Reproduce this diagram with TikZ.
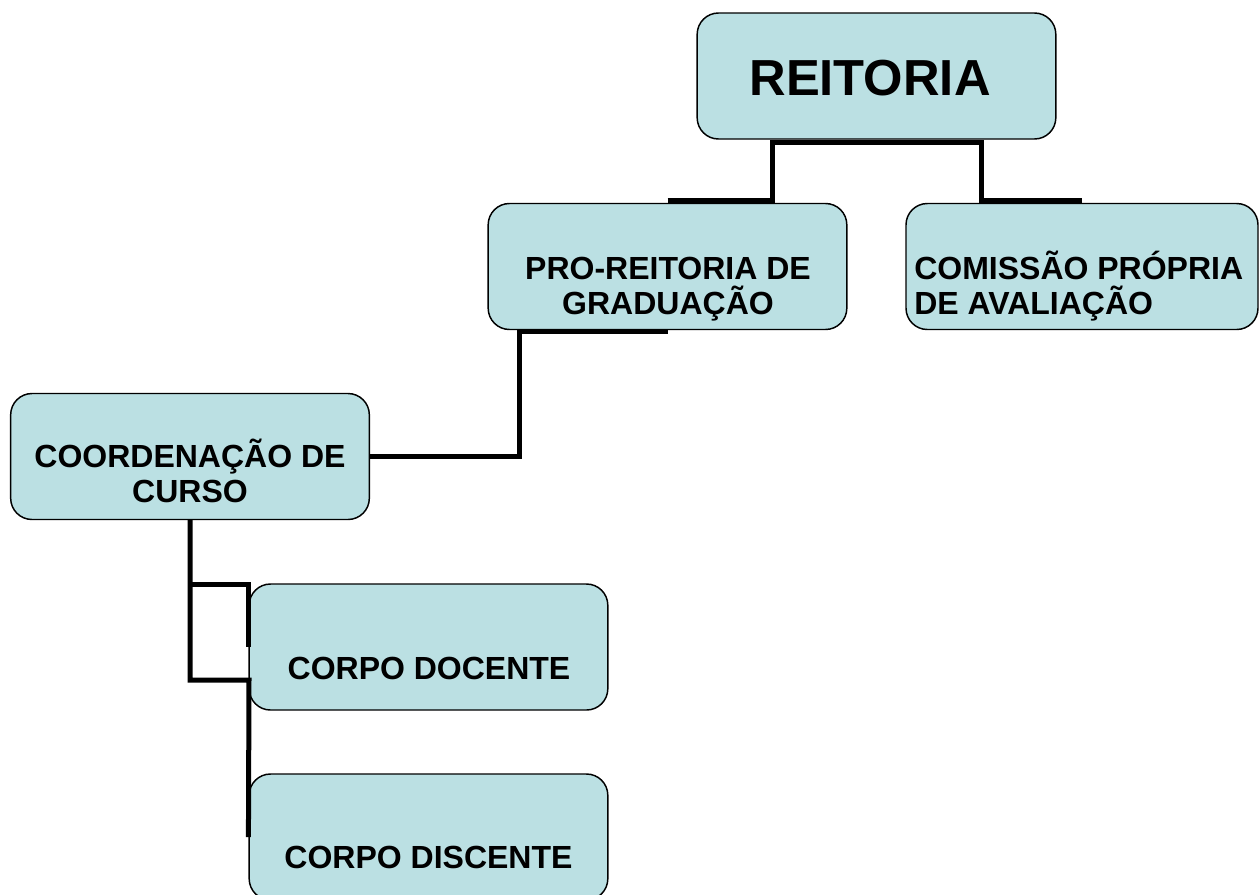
\documentclass[tikz,border=0pt]{standalone}
\usepackage{fontspec}
\setmainfont{Liberation Sans}
\definecolor{boxfill}{RGB}{187,224,227}
\tikzset{
  box/.style={draw, fill=boxfill, line width=1.1pt, rounded corners=16pt,
    minimum width=269pt, minimum height=94.5pt, inner sep=0pt},
  lbl/.style={font=\fontsize{24}{26.25}\selectfont\bfseries, align=center, inner sep=0pt},
  link/.style={line width=3.75pt}
}
\begin{document}
\begin{tikzpicture}[x=0.75pt, y=-0.75pt]
\clip (0,0) rectangle (1260,894);

\node (rei) at (876.5,76) [box]{};
\node (pro) at (667.5,266.5) [box]{};
\node (com) at (1082,266.5) [box, minimum width=264pt]{};
\node (coord) at (190,456.5) [box]{};
\node (doc) at (428.5,647) [box]{};
\node (disc) at (428.5,837) [box]{};

\node (rei-t) at (870,78.5) [inner sep=0pt, font=\fontsize{38}{40}\selectfont\bfseries]{REITORIA};
\node (pro-t) at (668,257) [lbl, anchor=north]{PRO-REITORIA DE\\GRADUAÇÃO};
\node (com-t) at (914,251) [lbl, anchor=north west, align=left]{COMISSÃO PRÓPRIA\\DE AVALIAÇÃO};
\node (coord-t) at (190,439) [lbl, anchor=north]{COORDENAÇÃO DE\\CURSO};
\node (doc-t) at (429,679) [lbl, anchor=base]{CORPO DOCENTE};
\node (disc-t) at (428.5,868) [lbl, anchor=base]{CORPO DISCENTE};

\coordinate (j1) at (772,142);
\coordinate (j2) at (981,142);
\coordinate (e1) at (519,331);
\coordinate (k1) at (190,584);
\coordinate (n1) at (249,680);

\draw [link] ([yshift=1.5pt]pro.north) -| (j1) -- (j2) |- ([yshift=1.5pt]com.north);
\draw [link] (coord.east) -| (e1) -- (e1 -| pro.south);
\draw [link] (coord.south) |- (n1) -- (disc.west);
\draw [link] (k1) -| (doc.west);

\end{tikzpicture}
\end{document}
